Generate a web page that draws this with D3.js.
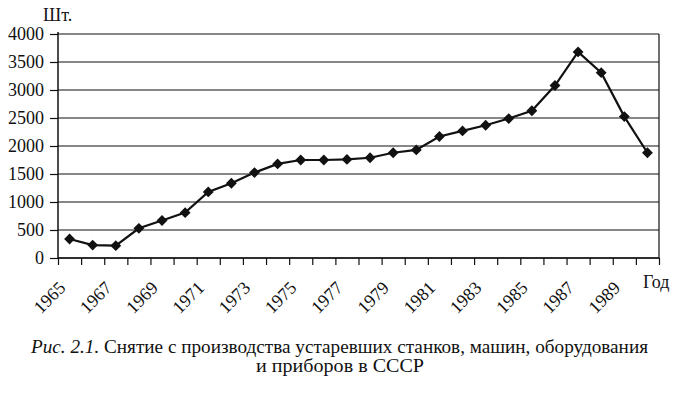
<!DOCTYPE html>
<html>
<head>
<meta charset="utf-8">
<script src="https://cdn.jsdelivr.net/npm/d3@7"></script>
<style>
  body { margin: 0; background: #fff; }
  svg text { font-family: "Liberation Serif", "Times New Roman", serif; fill: #111; }
</style>
</head>
<body>
<svg id="chart" width="682" height="393"></svg>
<script>
// years on the category axis
const years = [1965, 1966, 1967, 1968, 1969, 1970, 1971, 1972, 1973, 1974, 1975, 1976, 1977,
    1978, 1979, 1980, 1981, 1982, 1983, 1984, 1985, 1986, 1987, 1988, 1989, 1990];
// units taken out of production, pcs
const removed = [340, 230, 220, 530, 670, 810, 1180, 1335, 1525, 1680, 1750, 1750, 1760,
    1790, 1880, 1930, 2170, 2270, 2370, 2490, 2630, 3080, 3680, 3310, 2525, 1880];
const yTicks = [0, 500, 1000, 1500, 2000, 2500, 3000, 3500, 4000];
const xLabels = [1965, 1967, 1969, 1971, 1973, 1975, 1977, 1979, 1981, 1983, 1985, 1987, 1989];

const svg = d3.select('#chart');
const plot = {left: 58, right: 659, top: 34, bottom: 258};

// boundaries between categories, points sit in the middle
const xb = d3.scaleLinear().domain([0, years.length]).range([plot.left, plot.right]);
const xc = i => xb(i + 0.5);
const y = d3.scaleLinear().domain([0, 4000]).range([plot.bottom, plot.top]);

// horizontal grid
svg.append('g')
    .selectAll('line')
    .data(yTicks)
    .enter()
    .append('line')
    .attr('x1', plot.left).attr('x2', plot.right)
    .attr('y1', d => y(d)).attr('y2', d => y(d))
    .attr('stroke', '#111')
    .attr('stroke-width', 1.2);

// right border
svg.append('line')
    .attr('x1', plot.right).attr('x2', plot.right)
    .attr('y1', plot.top).attr('y2', plot.bottom)
    .attr('stroke', '#111').attr('stroke-width', 1.2);

const yAxis = svg.append('g')
    .attr('transform', `translate(${plot.left},0)`)
    .call(d3.axisLeft(y).tickValues(yTicks).tickSize(8).tickPadding(6).tickFormat(d3.format('d')));
yAxis.select('.domain').attr('stroke', '#111').attr('stroke-width', 1.5).attr('d', `M0,${plot.top - 2}V${plot.bottom}`);
yAxis.selectAll('.tick line').attr('stroke', '#111').attr('stroke-width', 1.2);
yAxis.selectAll('.tick text')
    .style('font-size', '18px')
    .attr('fill', '#111');

const xAxis = svg.append('g')
    .attr('transform', `translate(0,${plot.bottom})`)
    .call(d3.axisBottom(xb).tickValues(d3.range(years.length + 1)).tickSize(7).tickFormat(''));
xAxis.select('.domain').attr('stroke', '#111').attr('stroke-width', 1.5).attr('d', `M${plot.left},0H${plot.right}`);
xAxis.selectAll('.tick line').attr('stroke', '#111').attr('stroke-width', 1.2);

// rotated year labels
svg.append('g')
    .selectAll('text')
    .data(xLabels)
    .enter()
    .append('text')
    .attr('transform', d => `translate(${xc(years.indexOf(d)) - 3},${plot.bottom + 31}) rotate(-45)`)
    .attr('text-anchor', 'end')
    .style('font-size', '18px')
    .text(d => d);

svg.append('text')
    .attr('x', 643).attr('y', 288)
    .style('font-size', '18px')
    .text('Год');

svg.append('text')
    .attr('x', 43).attr('y', 21)
    .style('font-size', '18px')
    .text('Шт.');

// series
const line = d3.line()
    .x((d, i) => xc(i))
    .y(d => y(d));

svg.append('path')
    .datum(removed)
    .attr('d', line)
    .attr('fill', 'none')
    .attr('stroke', '#111')
    .attr('stroke-width', 2.2);

svg.append('g')
    .selectAll('path')
    .data(removed)
    .enter()
    .append('path')
    .attr('d', d3.symbol().type(d3.symbolDiamond2).size(75))
    .attr('transform', (d, i) => `translate(${xc(i)},${y(d)})`)
    .attr('fill', '#111');

// caption
const cap = svg.append('text')
    .attr('x', 31).attr('y', 353)
    .attr('textLength', 617)
    .attr('lengthAdjust', 'spacingAndGlyphs')
    .style('font-size', '18px');
cap.append('tspan').style('font-style', 'italic').text('Рис. 2.1.');
cap.append('tspan').text(' Снятие с производства устаревших станков, машин, оборудования');

svg.append('text')
    .attr('x', 256).attr('y', 372)
    .attr('textLength', 168)
    .attr('lengthAdjust', 'spacingAndGlyphs')
    .style('font-size', '18px')
    .text('и приборов в СССР');
</script>
</body>
</html>
